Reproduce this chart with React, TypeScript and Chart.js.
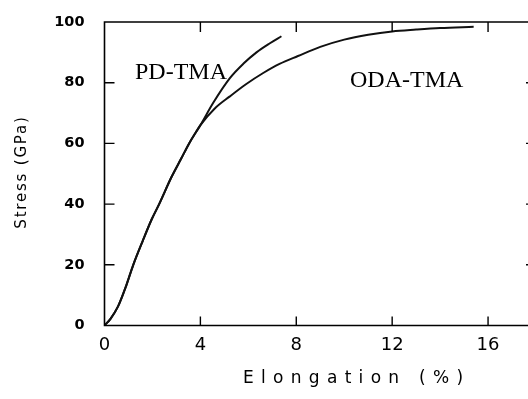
import React, { useEffect, useRef } from "react";
import { Chart, registerables } from "chart.js";

Chart.register(...registerables);

// Shared initial segment + PD-TMA branch
const pdX = [0, 0.25, 0.56, 0.9, 1.2, 1.6, 1.97, 2.28, 2.8, 3.2, 3.53, 3.8, 4.0, 4.53, 5.23, 5.8, 6.34, 6.9, 7.38];
const pdY = [0, 2.2, 6.2, 13, 20, 28, 35, 40, 49, 55, 60, 63.5, 66, 73.3, 81.5, 86.3, 90, 93, 95.3];

// Shared initial segment + ODA-TMA branch
const odaX = [0, 0.25, 0.56, 0.9, 1.2, 1.6, 1.97, 2.28, 2.8, 3.2, 3.53, 3.8, 4.0, 4.6, 5.23, 5.9, 6.62, 7.3, 8.07, 9, 10, 11, 12, 13, 14, 15.4];
const odaY = [0, 2.2, 6.2, 13, 20, 28, 35, 40, 49, 55, 60, 63.5, 66, 71.5, 75.5, 79.5, 83.2, 86.2, 88.8, 91.8, 94.2, 95.8, 96.9, 97.5, 98, 98.4];

const xTicks = [0, 4, 8, 12, 16];
const yTicks = [0, 20, 40, 60, 80, 100];
const seriesLabels = ["PD-TMA", "ODA-TMA"];
const xTitle = "Elongation (%)";
const yTitle = "Stress (GPa)";

const frameAndText = {
  id: "frameAndText",
  afterDraw(chart: any) {
    const ctx = chart.ctx;
    const { left, right, top, bottom } = chart.chartArea;
    const xs = chart.scales.x;
    const ys = chart.scales.y;
    ctx.save();
    ctx.strokeStyle = "#000";
    ctx.lineWidth = 1.6;
    ctx.beginPath();
    ctx.moveTo(left, top);
    ctx.lineTo(right, top);
    ctx.lineTo(right, bottom);
    ctx.lineTo(left, bottom);
    ctx.closePath();
    ctx.stroke();
    ctx.lineWidth = 1.4;
    ctx.beginPath();
    xs.ticks.forEach((t: any) => {
      if (t.value === 0) return;
      const px = xs.getPixelForValue(t.value);
      ctx.moveTo(px, bottom);
      ctx.lineTo(px, bottom - 9);
      ctx.moveTo(px, top);
      ctx.lineTo(px, top + 10);
    });
    ys.ticks.forEach((t: any) => {
      if (t.value === 0 || t.value === 100) return;
      const py = ys.getPixelForValue(t.value);
      ctx.moveTo(left, py);
      ctx.lineTo(left + 10, py);
      ctx.moveTo(right, py);
      ctx.lineTo(right - 10, py);
    });
    ctx.stroke();

    ctx.fillStyle = "#000";
    // x title
    ctx.font = "17px 'DejaVu Sans'";
    (ctx as any).letterSpacing = "7.3px";
    ctx.textAlign = "left";
    ctx.textBaseline = "alphabetic";
    ctx.fillText(xTitle, 243, 383);
    // y title
    ctx.save();
    ctx.font = "15px 'DejaVu Sans'";
    (ctx as any).letterSpacing = "1.8px";
    ctx.translate(26, 172);
    ctx.rotate(-Math.PI / 2);
    ctx.textAlign = "center";
    ctx.fillText(yTitle, 0, 0);
    ctx.restore();
    // annotations
    (ctx as any).letterSpacing = "0px";
    ctx.font = "24px 'Liberation Serif'";
    ctx.textAlign = "left";
    ctx.fillText(seriesLabels[0], 135, 79);
    ctx.fillText(seriesLabels[1], 350, 87);
    ctx.restore();
  },
};

export default function App() {
  const ref = useRef<HTMLCanvasElement | null>(null);
  useEffect(() => {
    if (!ref.current) return;
    const chart = new Chart(ref.current, {
      type: "line",
      data: {
        datasets: [
          {
            label: seriesLabels[0],
            data: pdX.map((x, i) => ({ x, y: pdY[i] })),
            borderColor: "#111",
            borderWidth: 2,
            pointRadius: 0,
            cubicInterpolationMode: "monotone",
            fill: false,
          },
          {
            label: seriesLabels[1],
            data: odaX.map((x, i) => ({ x, y: odaY[i] })),
            borderColor: "#111",
            borderWidth: 2,
            pointRadius: 0,
            cubicInterpolationMode: "monotone",
            fill: false,
          },
        ],
      },
      options: {
        animation: false,
        responsive: false,
        layout: { padding: { left: 0, right: 24, top: 22, bottom: 0 } },
        plugins: { legend: { display: false }, tooltip: { enabled: false } },
        scales: {
          x: {
            type: "linear",
            min: 0,
            max: 18,
            grid: { display: false, drawTicks: false },
            border: { display: false },
            afterBuildTicks: (scale: any) => {
              scale.ticks = xTicks.map((v) => ({ value: v }));
            },
            afterFit: (scale: any) => {
              scale.height = 73.5;
              scale.paddingLeft = 0;
              scale.paddingRight = 0;
            },
            ticks: {
              color: "#000",
              padding: 9,
              maxRotation: 0,
              font: { family: "'DejaVu Sans'", size: 18 },
            },
          },
          y: {
            type: "linear",
            min: 0,
            max: 100,
            grid: { display: false, drawTicks: false },
            border: { display: false },
            afterBuildTicks: (scale: any) => {
              scale.ticks = yTicks.map((v) => ({ value: v }));
            },
            afterFit: (scale: any) => {
              scale.width = 104.5;
              scale.paddingTop = 0;
              scale.paddingBottom = 0;
            },
            ticks: {
              color: "#000",
              padding: 20,
              font: { family: "'DejaVu Sans'", size: 14.5, weight: "bold" },
            },
          },
        },
      },
      plugins: [frameAndText],
    });
    return () => chart.destroy();
  }, []);
  return (
    <div
      style={{
        position: "fixed",
        left: 0,
        top: 0,
        width: 528,
        height: 399,
        overflow: "hidden",
        background: "#fff",
      }}
    >
      <canvas ref={ref} width={560} height={399} style={{ display: "block", width: 560, height: 399 }} />
    </div>
  );
}
